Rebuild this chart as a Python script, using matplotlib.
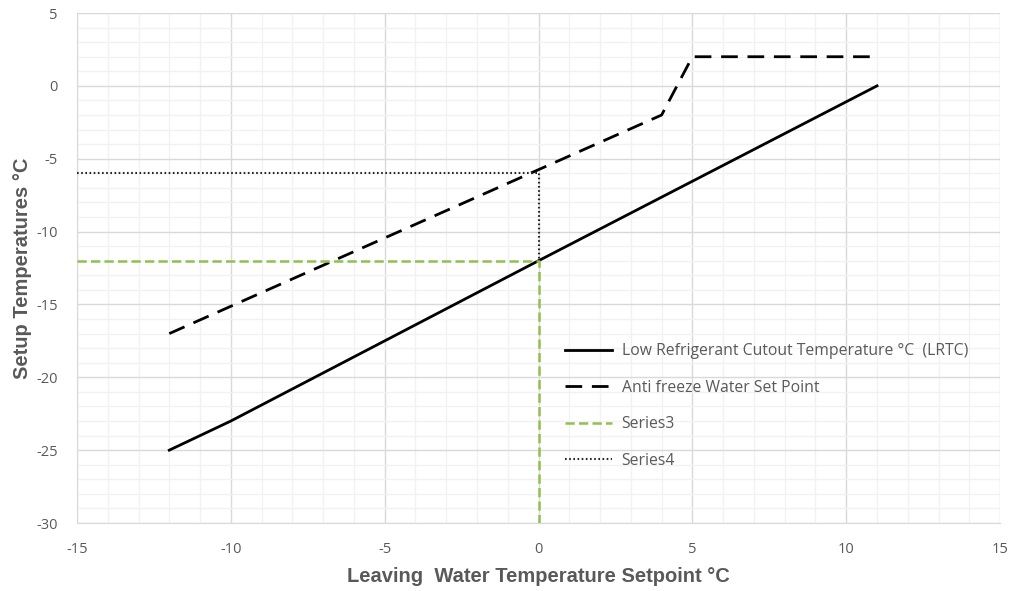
import numpy as np
import matplotlib
matplotlib.use('Agg')
import matplotlib.pyplot as plt
from matplotlib.ticker import MultipleLocator

# data
lrtc_x = [-12, -10, 0, 11]
lrtc_y = [-25, -23, -12, 0]

anti_x = [-12, 0, 4, 5, 11]
anti_y = [-17, -5.75, -2, 2, 2]

s3_x = [-15, 0, 0]
s3_y = [-12, -12, -30]

s4_x = [-15, 0, 0]
s4_y = [-6, -6, -12]

grey = '#595959'
plt.rcParams['font.family'] = ['Open Sans', 'DejaVu Sans']
plt.rcParams['axes.unicode_minus'] = False

fig = plt.figure(figsize=(10.1, 5.91), dpi=100)
ax = fig.add_axes([0.0762, 0.115, 0.914, 0.863])

ax.plot(lrtc_x, lrtc_y, color='black', lw=2, label='Low Refrigerant Cutout Temperature °C  (LRTC)', zorder=3)
ax.plot(anti_x, anti_y, color='black', lw=2, dashes=(6, 3.5), label='Anti freeze Water Set Point', zorder=3)
ax.plot(s3_x, s3_y, color='#92c050', lw=1.8, dashes=(3.7, 1.7), label='Series3', zorder=3)
ax.plot(s4_x, s4_y, color='#262626', lw=1.5, dashes=(0.8, 1.2), label='Series4', zorder=3)

ax.set_xlim(-15, 15)
ax.set_ylim(-30, 5)
ax.xaxis.set_major_locator(MultipleLocator(5))
ax.yaxis.set_major_locator(MultipleLocator(5))
ax.xaxis.set_minor_locator(MultipleLocator(1))
ax.yaxis.set_minor_locator(MultipleLocator(1))
ax.grid(which='major', color='#d9d9d9', lw=1)
ax.grid(which='minor', color='#f2f2f2', lw=1)
ax.set_axisbelow(True)

for s in ['top', 'right']:
    ax.spines[s].set_visible(False)
for s in ['left', 'bottom']:
    ax.spines[s].set_color('#d9d9d9')

ax.tick_params(which='both', length=0, colors=grey, labelsize=10.5)
ax.tick_params(axis='x', pad=14)
ax.tick_params(axis='y', pad=14)

ax.set_xlabel('Leaving  Water Temperature Setpoint °C', fontsize=14.5, fontweight='bold', color=grey,
              family='Liberation Sans', labelpad=7)
ax.set_ylabel('Setup Temperatures °C', fontsize=14.5, fontweight='bold', color=grey,
              family='Liberation Sans', labelpad=3)

leg = ax.legend(loc='upper left', bbox_to_anchor=(0.522, 0.365), borderaxespad=0, frameon=False,
                fontsize=11.3, handlelength=3.0, labelspacing=1.31, handletextpad=0.6)
for t in leg.get_texts():
    t.set_color(grey)

fig.savefig('out.png', dpi=100)
